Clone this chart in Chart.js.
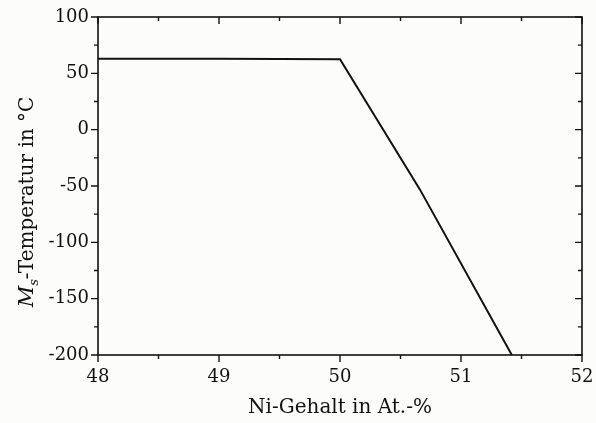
<!DOCTYPE html>
<html>
<head>
<meta charset="utf-8">
<script src="https://cdn.jsdelivr.net/npm/chart.js@4/dist/chart.umd.min.js"></script>
<style>
body{margin:0;background:#fcfcfa;}
#box{width:596px;height:423px;position:relative;}
</style>
</head>
<body>
<div id="box"><canvas id="grafik"></canvas></div>
<script>
// =========================
// DATEN
// =========================

let niGehalt = [48, 49, 50, 50.66, 51.42];
let msTemp   = [63, 63, 62.5, -53, -200];

let xTicks = [48, 49, 50, 51, 52];
let yTicks = [-200, -150, -100, -50, 0, 50, 100];

let xTitel = "Ni-Gehalt in At.-%";
let yTitel = ["M", "s", "-Temperatur in °C"];

let schrift = "'DejaVu Serif', serif";
let farbe = "#111";


// =========================
// RAHMEN, TICKS, Y-TITEL
// =========================

let rahmenPlugin = {
id: "rahmen",
afterDraw: function(chart){
let ctx = chart.ctx;
let a = chart.chartArea;
let xs = chart.scales.x;
let ys = chart.scales.y;
ctx.save();
ctx.strokeStyle = farbe;
ctx.lineWidth = 1.6;
ctx.strokeRect(a.left, a.top, a.right - a.left, a.bottom - a.top);

ctx.lineWidth = 1.4;
ctx.beginPath();
// x ticks: unten nach aussen, oben nach innen
for(let v = xTicks[0]; v <= xTicks[xTicks.length-1] + 1e-9; v += 0.5){
let px = xs.getPixelForValue(v);
let major = xTicks.indexOf(v) >= 0;
let len = major ? 7 : 4;
ctx.moveTo(px, a.bottom); ctx.lineTo(px, a.bottom + len);
ctx.moveTo(px, a.top); ctx.lineTo(px, a.top + len);
}
// y ticks: links nach aussen, rechts nach innen
for(let v = yTicks[0]; v <= yTicks[yTicks.length-1]; v += 25){
let py = ys.getPixelForValue(v);
let major = yTicks.indexOf(v) >= 0;
let len = major ? 7 : 4;
ctx.moveTo(a.left, py); ctx.lineTo(a.left - len, py);
ctx.moveTo(a.right, py); ctx.lineTo(a.right - len, py);
}
ctx.stroke();

// y-Titel mit M kursiv und Index s
ctx.fillStyle = farbe;
ctx.translate(33, (a.top + a.bottom) / 2 + 16);
ctx.rotate(-Math.PI / 2);
ctx.textBaseline = "alphabetic";
ctx.font = "italic 21px " + schrift;
let wM = ctx.measureText(yTitel[0]).width;
ctx.font = "italic 13px " + schrift;
let wS = ctx.measureText(yTitel[1]).width;
ctx.font = "20px " + schrift;
let wR = ctx.measureText(yTitel[2]).width;
let x0 = -(wM + wS + wR) / 2;
ctx.font = "italic 21px " + schrift;
ctx.fillText(yTitel[0], x0, 0);
ctx.font = "italic 13px " + schrift;
ctx.fillText(yTitel[1], x0 + wM, 5);
ctx.font = "20px " + schrift;
ctx.fillText(yTitel[2], x0 + wM + wS, 0);
ctx.restore();
}
};


// =========================
// GRAFIK
// =========================

let ctx1 = document.getElementById("grafik");

new Chart(ctx1, {
type: "line",
data: {
datasets: [{
data: niGehalt.map(function(x, i){ return {x: x, y: msTemp[i]}; }),
borderColor: farbe,
borderWidth: 2,
pointRadius: 0,
tension: 0,
fill: false
}]
},
plugins: [rahmenPlugin],
options: {
responsive: true,
maintainAspectRatio: false,
animation: false,
layout: { autoPadding: false, padding: {left: 0, right: 14, top: 17, bottom: 0} },
plugins: { legend: {display: false}, tooltip: {enabled: false} },
scales: {
x: {
type: "linear",
min: xTicks[0],
max: xTicks[xTicks.length-1],
afterFit: function(s){ s.height = 68; s.paddingLeft = 0; s.paddingRight = 0; },
afterBuildTicks: function(s){ s.ticks = xTicks.map(function(v){ return {value: v}; }); },
grid: {display: false, drawTicks: false},
border: {display: false},
ticks: { color: farbe, padding: 12, maxRotation: 0, font: {family: schrift, size: 18} },
title: { display: true, text: xTitel, color: farbe, padding: {top: 0, bottom: 3}, font: {family: schrift, size: 20} }
},
y: {
min: yTicks[0],
max: yTicks[yTicks.length-1],
afterFit: function(s){ s.width = 98; s.paddingTop = 0; s.paddingBottom = 0; },
afterBuildTicks: function(s){ s.ticks = yTicks.map(function(v){ return {value: v}; }); },
grid: {display: false, drawTicks: false},
border: {display: false},
ticks: { color: farbe, padding: 9, font: {family: schrift, size: 18} }
}
}
}
});
</script>
</body>
</html>
